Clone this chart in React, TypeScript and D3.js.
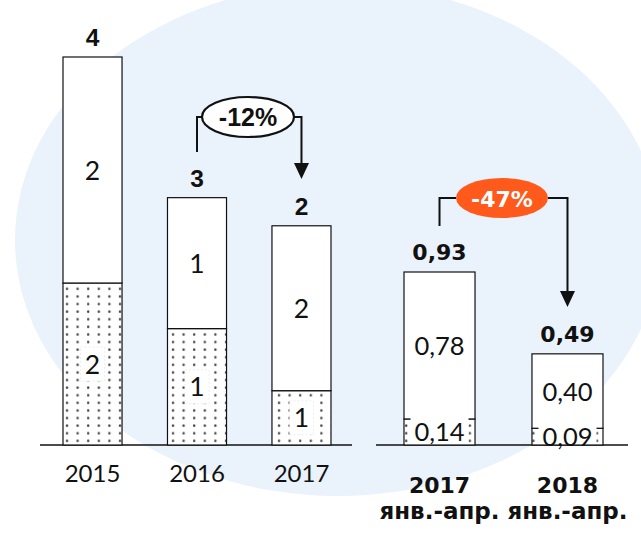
import React from "react";
import * as d3 from "d3";

const yearCats = ["2015", "2016", "2017"];
const yearLower = [1.67, 1.2, 0.56];
const yearUpper = [2.33, 1.35, 1.7];

const periodYears = ["2017", "2018"];
const periodSub = ["янв.-апр.", "янв.-апр."];
const periodLower = [0.14, 0.09];
const periodUpper = [0.78, 0.4];
const periodTotal = [0.93, 0.49];

const changeLeft = "-12%";
const changeRight = "-47%";

const W = 641;
const H = 533;
const BASE = 445;
const ORANGE = "#FF5A1C";
const THIN = "Lato, 'DejaVu Sans', sans-serif";
const BOLD_L = "'Liberation Sans', Arial, sans-serif";
const BOLD_R = "'DejaVu Sans', sans-serif";

const fmt = (v: number) => v.toFixed(2).replace(".", ",");

export default function App() {
  const xL = d3.scaleBand<string>().domain(yearCats).range([63, 331]).paddingInner(0.435).paddingOuter(0);
  const yL = d3.scaleLinear().domain([0, 4]).range([BASE, 57]);
  const xR = d3.scaleBand<string>().domain(periodYears).range([404, 603]).paddingInner(0.445).paddingOuter(0);
  const yR = d3.scaleLinear().domain([0, 0.93]).range([BASE, 272]);

  const bwL = xL.bandwidth();
  const bwR = xR.bandwidth();

  const totalsL = yearCats.map((_, i) => yearLower[i] + yearUpper[i]);

  const bracket = (
    x1: number, yStart: number, x2: number, yEnd: number, yTop: number,
    ecx: number, rx: number, ry: number, fill: string, stroke: string, label: string, textColor: string, font: string, fs: number
  ) => {
    const ex1 = ecx - rx;
    const ex2 = ecx + rx;
    const tipY = yEnd;
    const headH = 16;
    return (
      <g>
        <path d={`M${x1},${yStart} V${yTop} H${ex1}`} fill="none" stroke="#111" strokeWidth={2} />
        <path d={`M${ex2},${yTop} H${x2} V${tipY - headH}`} fill="none" stroke="#111" strokeWidth={2} />
        <polygon points={`${x2 - 7.5},${tipY - headH} ${x2 + 7.5},${tipY - headH} ${x2},${tipY}`} fill="#111" />
        <ellipse cx={ecx} cy={yTop} rx={rx} ry={ry} fill={fill} stroke={stroke} strokeWidth={stroke === "none" ? 0 : 2.2} />
        <text x={ecx} y={yTop + 8.5} textAnchor="middle" fontFamily={font} fontWeight="bold" fontSize={fs} fill={textColor}>{label}</text>
      </g>
    );
  };

  return (
    <svg width={W} height={H} style={{ position: "absolute", left: 0, top: 0, background: "#fff" }}>
      <defs>
        <pattern id="dots" width={10.6} height={7.6} patternUnits="userSpaceOnUse" x={63} y={BASE}>
          <rect width={10.6} height={7.6} fill="#fff" />
          <circle cx={4} cy={3.5} r={1.25} fill="#4a4a4a" />
        </pattern>
      </defs>
      <ellipse cx={338} cy={240} rx={323} ry={256} fill="#EAF2FC" />

      {/* axis lines */}
      <line x1={40} x2={352} y1={BASE} y2={BASE} stroke="#111" strokeWidth={1.5} />
      <line x1={376} x2={628} y1={BASE} y2={BASE} stroke="#111" strokeWidth={1.5} />

      {/* left group */}
      {yearCats.map((c, i) => {
        const x = xL(c)!;
        const yLow = yL(yearLower[i]);
        const yTop = yL(totalsL[i]);
        const cx = x + bwL / 2;
        const lowMid = (yLow + BASE) / 2;
        const upMid = (yTop + yLow) / 2;
        return (
          <g key={c}>
            <rect x={x} y={yLow} width={bwL} height={BASE - yLow} fill="url(#dots)" stroke="#111" strokeWidth={1.2} />
            <rect x={x} y={yTop} width={bwL} height={yLow - yTop} fill="#fff" stroke="#111" strokeWidth={1.2} />
            <rect x={cx - 12} y={lowMid - 17} width={24} height={34} fill="#fff" stroke="#e2e2e2" strokeWidth={0.6} strokeDasharray="2,2" />
            <text x={cx} y={lowMid + 9.5} textAnchor="middle" fontFamily={THIN} fontSize={26.5} fill="#111">{Math.round(yearLower[i])}</text>
            <text x={cx} y={upMid + 9.5} textAnchor="middle" fontFamily={THIN} fontSize={26.5} fill="#111">{Math.round(yearUpper[i])}</text>
            <text x={cx} y={yTop - 11} textAnchor="middle" fontFamily={BOLD_L} fontWeight="bold" fontSize={24.5} fill="#111">{Math.round(totalsL[i])}</text>
            <text x={cx} y={481.5} textAnchor="middle" fontFamily={THIN} fontSize={24} fill="#111">{c}</text>
          </g>
        );
      })}

      {/* right group */}
      {periodYears.map((c, i) => {
        const x = xR(c)!;
        const yLow = yR(periodLower[i]);
        const yTop = yR(periodTotal[i]);
        const cx = x + bwR / 2;
        const lowMid = (yLow + BASE) / 2;
        const upMid = (yTop + yLow) / 2;
        const boxTop = Math.min(yLow - 3, lowMid - 12);
        return (
          <g key={c + i}>
            <rect x={x} y={yLow} width={bwR} height={BASE - yLow} fill="url(#dots)" stroke="#111" strokeWidth={1.2} />
            <rect x={x} y={yTop} width={bwR} height={yLow - yTop} fill="#fff" stroke="#111" strokeWidth={1.2} />
            <rect x={cx - 29} y={boxTop} width={58} height={BASE - boxTop - 1} fill="#fff" />
            <text x={cx} y={lowMid + 9.5} textAnchor="middle" fontFamily={THIN} fontSize={25.5} fill="#111">{fmt(periodLower[i])}</text>
            <text x={cx} y={upMid + 9.5} textAnchor="middle" fontFamily={THIN} fontSize={25.5} fill="#111">{fmt(periodUpper[i])}</text>
            <text x={cx} y={yTop - 12} textAnchor="middle" fontFamily={BOLD_R} fontWeight="bold" fontSize={22} fill="#111">{fmt(periodTotal[i])}</text>
            <text x={cx} y={493} textAnchor="middle" fontFamily={BOLD_R} fontWeight="bold" fontSize={22} fill="#111">{c}</text>
            <text x={cx} y={519} textAnchor="middle" fontFamily={BOLD_R} fontWeight="bold" fontSize={23} fill="#111">{periodSub[i]}</text>
          </g>
        );
      })}

      {bracket(
        xL("2016")! + bwL / 2, 152,
        xL("2017")! + bwL / 2, 179, 117,
        248, 46, 20, "#fff", "#111", changeLeft, "#111", BOLD_L, 25
      )}
      {bracket(
        xR("2017")! + bwR / 2, 226,
        xR("2018")! + bwR / 2, 307, 198,
        502, 46, 20, ORANGE, "none", changeRight, "#fff", BOLD_R, 22
      )}
    </svg>
  );
}
